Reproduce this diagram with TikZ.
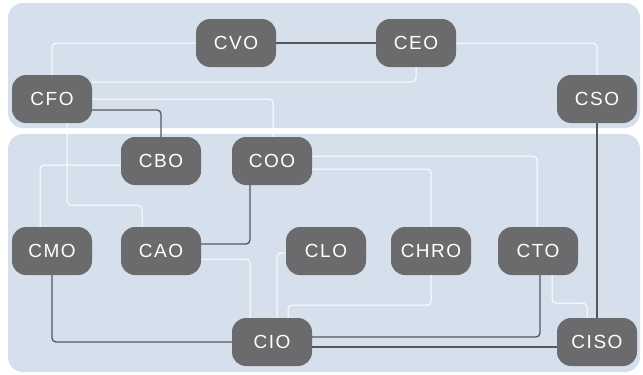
\documentclass[tikz,border=0pt]{standalone}
\usepackage{fontspec}
\newfontfamily\rolefont[LetterSpace=8]{Liberation Sans}
\usepackage{xcolor}
\usetikzlibrary{calc,positioning}
\definecolor{pane}{HTML}{D6DFEC}
\definecolor{boxc}{HTML}{6B6B6E}
\definecolor{linkc}{HTML}{57575B}

\begin{document}
\begin{tikzpicture}[x=1pt,y=-1pt,
  role/.style={rectangle,rounded corners=14pt,fill=boxc,text=white,minimum width=80pt,minimum height=48pt,inner sep=0pt,font=\rolefont\fontsize{19}{19}\selectfont},
  link/.style={draw=linkc,line width=1.3pt,rounded corners=4pt},
  wire/.style={draw=white,line width=1pt,rounded corners=4pt},
  panel/.style={fill=pane,rounded corners=15pt}]
\useasboundingbox (0,0) rectangle (643,375);
% background panels
\fill[panel] (8,3) rectangle (640,128);
\fill[panel] (8,134) rectangle (640,372);
% roles
\foreach \n/\lab/\x/\y in {cvo/CVO/236/43, ceo/CEO/416/43,
                           cfo/CFO/52/99, cso/CSO/597/99,
                           cbo/CBO/161/161, coo/COO/272/161,
                           cmo/CMO/52/251, cao/CAO/161/251, clo/CLO/326/251,
                           chro/CHRO/431/251, cto/CTO/538/251,
                           cio/CIO/272/342, ciso/CISO/597/342}{
  \node[role] (\n) at (\x,\y) {\lab};
}
% white wires
\draw[wire] (cvo.west) -| (cfo.north);
\draw[wire] (ceo.east) -| (cso.north);
\draw[wire] ([yshift=17pt]cfo.east) -| (ceo.south);
\draw[wire] (cfo.east) -| ([xshift=1pt]coo.north);
\draw[wire] ([xshift=15pt]cfo.south) -- ++(0,82) -| ([xshift=-19pt]cao.north);
\draw[wire] ([yshift=-4pt]cbo.west) -| ([xshift=-12pt]cmo.north);
\draw[wire] ([yshift=5pt]coo.east) -| ([xshift=-1pt]cto.north);
\draw[wire] ([yshift=-8pt]coo.east) -| (chro.north);
\draw[wire] ([yshift=-8pt]cao.east) -| ([xshift=-22pt]cio.north);
\draw[wire] ([yshift=-2pt]clo.west) -| ([xshift=5pt]cio.north);
\draw[wire] (chro.south) -- ++(0,30) -| ([xshift=16pt]cio.north);
\draw[wire] ([xshift=14pt]cto.south) -- ++(0,28) -| ([xshift=-10pt]ciso.north);
% dark links
\draw[link] (cvo.east) -- (ceo.west);
\draw[link] ([yshift=-11pt]cfo.east) -| (cbo.north);
\draw[link] ([xshift=-22pt]coo.south) |- ([yshift=7pt]cao.east);
\draw[link] (cmo.south) |- (cio.west);
\draw[link] ([yshift=5pt]cio.east) -| ([xshift=2pt]cto.south);
\draw[link] ([yshift=-5pt]cio.east) -- ([yshift=-5pt]ciso.west);
\draw[link] (cso.south) -- (ciso.north);
\end{tikzpicture}
\end{document}
